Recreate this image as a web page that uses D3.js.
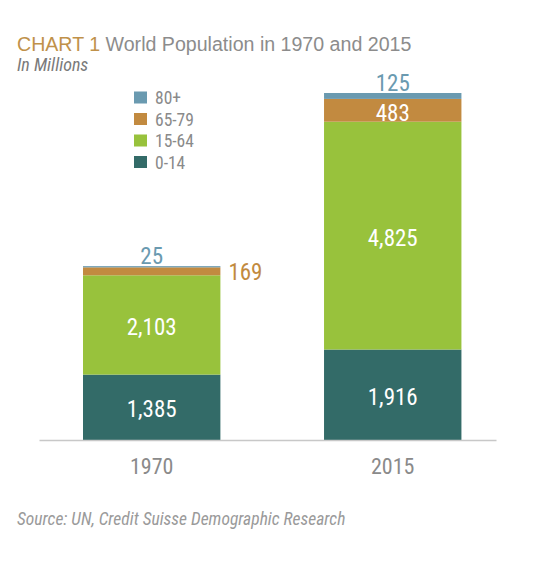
<!DOCTYPE html>
<html><head><meta charset="utf-8">
<script src="https://cdn.jsdelivr.net/npm/d3@7"></script>
<style>
body{margin:0;background:#fff;}
text{font-family:"Roboto Condensed","Liberation Sans Narrow","Arial Narrow","DejaVu Sans Condensed",sans-serif;}
.t{font-family:"Liberation Sans",Arial,sans-serif;}
</style></head>
<body><svg id="c" width="546" height="561"></svg>
<script>
const years = ["1970", "2015"];
const groups = ["0-14", "15-64", "65-79", "80+"];
const v0_14 = [1385, 1916];
const v15_64 = [2103, 4825];
const v65_79 = [169, 483];
const v80 = [25, 125];
const colors = ["#336b68", "#98c23c", "#c28a40", "#6a9ab0"];

const svg = d3.select("#c");
const data = years.map((y, i) => ({year: y, "0-14": v0_14[i], "15-64": v15_64[i], "65-79": v65_79[i], "80+": v80[i]}));
const stack = d3.stack().keys(groups)(data);

const x = d3.scaleBand().domain(years).range([39, 496]).paddingInner(0.43).paddingOuter(0.163).align(0.56);
const y = d3.scaleLinear().domain([0, 7349]).range([440, 93]);

// bars
stack.forEach((s, k) => {
  svg.append("g").selectAll("rect").data(s).join("rect")
    .attr("x", d => x(d.data.year)).attr("width", x.bandwidth())
    .attr("y", d => y(d[1])).attr("height", d => y(d[0]) - y(d[1]))
    .attr("fill", colors[k]);
});

// axis
const ax = svg.append("g").attr("transform", "translate(0,440)").call(d3.axisBottom(x).tickSize(0).tickPadding(14));
ax.select(".domain").attr("stroke", "#c8c8c8").attr("stroke-width", 1.5);
ax.selectAll("text").attr("font-size", 22).attr("fill", "#8a8a8a").attr("dy", "0.9em")
  .style("font-family", '"Roboto Condensed","Liberation Sans Narrow","Arial Narrow","DejaVu Sans Condensed",sans-serif');

const fmt = d3.format(",");
// value labels
stack.forEach((s, k) => {
  s.forEach((d, i) => {
    const val = d[1] - d[0];
    const cx = x(d.data.year) + x.bandwidth() / 2;
    let tx = cx, ty = (y(d[0]) + y(d[1])) / 2 + 10, fill = "#fff", anchor = "middle";
    if (k === 3) { ty = y(d[1]) - 2; fill = colors[3]; }
    if (k === 2) { ty = (y(d[0]) + y(d[1])) / 2 + 11; }
    if (k === 2 && i === 0) { tx = x(d.data.year) + x.bandwidth() + 8; fill = colors[2]; anchor = "start"; ty = y(d[1]) + 13; }
    svg.append("text").attr("x", tx).attr("y", ty).attr("text-anchor", anchor)
      .attr("font-size", 23).attr("fill", fill).text(fmt(val));
  });
});

// legend
const leg = groups.slice().reverse();
leg.forEach((g, i) => {
  const ly = 97.5 + i * 21.5;
  svg.append("rect").attr("x", 134).attr("y", ly - 6).attr("width", 13).attr("height", 12)
    .attr("fill", colors[groups.indexOf(g)]);
  svg.append("text").attr("x", 155).attr("y", ly + 6.5).attr("font-size", 17.5).attr("fill", "#8a8a8a").text(g);
});

// title
const t = svg.append("text").attr("class", "t").attr("x", 17).attr("y", 51).attr("font-size", 19.6);
t.append("tspan").attr("fill", "#c0914a").text("CHART 1 ");
t.append("tspan").attr("fill", "#8c8c8c").text("World Population in 1970 and 2015");
svg.append("text").attr("x", 17).attr("y", 71).attr("font-size", 18).attr("font-style", "italic")
  .attr("fill", "#7a7a7a").text("In Millions");
svg.append("text").attr("x", 17).attr("y", 525).attr("font-size", 17.5).attr("font-style", "italic")
  .attr("fill", "#9a9a9a").text("Source: UN, Credit Suisse Demographic Research");
</script></body></html>
